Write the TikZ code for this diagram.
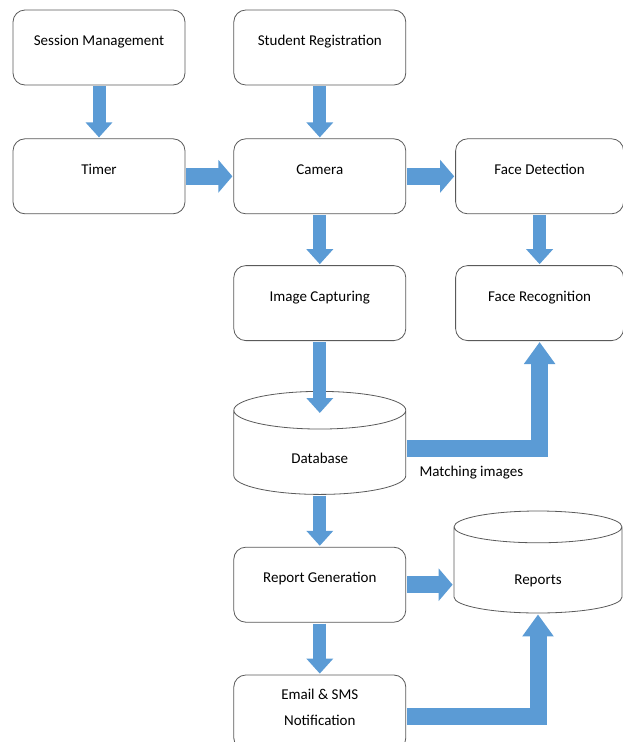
\documentclass[tikz,border=0pt]{standalone}
\usepackage{fontspec}
\setmainfont{Carlito}
\usetikzlibrary{arrows.meta,positioning,shapes.geometric}
\definecolor{fblue}{HTML}{5B9BD5}
\definecolor{fgray}{HTML}{5A5A5A}
\tikzset{
  box/.style={draw=fgray,fill=white,rounded corners=12pt,line width=0.8pt,align=center,minimum width=172pt,minimum height=75pt,inner sep=2pt},
  one/.style={box,text height=10pt,text depth=14pt},
  store/.style={cylinder,shape border rotate=90,aspect=0.62,draw=fgray,fill=white,line width=0.8pt,minimum width=172pt,minimum height=103pt,inner sep=2pt,text height=18pt,text depth=0pt},
  flow/.style={-{Triangle[width=26pt,length=15pt]},line width=13pt,draw=fblue,line join=miter,shorten <=1pt,shorten >=1pt},
  flowh/.style={flow,line width=17pt,-{Triangle[width=32pt,length=14pt]}},
  flowb/.style={flow,line width=17pt,-{Triangle[width=30pt,length=22pt]}},
  lbl/.style={text=black},
}
\begin{document}
\begin{tikzpicture}[x=1pt,y=-1pt,font=\fontsize{15}{18}\selectfont]
  \useasboundingbox (0,0) rectangle (623,742);
  \node[one] (sess) at (99,47.5) {Session Management};
  \node[one,right=48pt of sess] (stud) {Student Registration};
  \node[one,below=53pt of sess] (timer) {Timer};
  \node[one,below=53pt of stud] (cam) {Camera};
  \node[one,minimum width=168pt,right=49pt of cam] (fdet) {Face Detection};
  \node[one,below=51pt of cam] (imgc) {Image Capturing};
  \node[one,minimum width=168pt,below=51pt of fdet] (frec) {Face Recognition};
  \node[store,below=50pt of imgc] (db) {Database};
  \node[one,below=52pt of db] (rgen) {Report Generation};
  \node[store,minimum width=168pt,minimum height=102pt,text height=26pt,anchor=shape center] (rep) at (538,562) {Reports};
  \node[box,text depth=10pt,below=52pt of rgen] (mail) {Email \& SMS\\[8pt]Notification};
  \node[lbl,anchor=west] (match) at (416,473) {Matching images};
  \coordinate (dbout) at ([yshift=-6pt]db.shape center);
  \foreach \a/\b in {sess/timer,stud/cam,cam/imgc,fdet/frec,db/rgen,rgen/mail} \draw[flow] (\a) -- (\b);
  \draw[flow,shorten >=-22pt] (imgc) -- (db.north);
  \draw[flowh] (timer) -- (cam);
  \draw[flowh] (cam) -- (fdet);
  \draw[flowh] (rgen.east) -- (rgen.east -| rep.west);
  \draw[flowb] (dbout -| db.east) -| (frec.south);
  \draw[flowb] ([yshift=-4pt]mail.east) -| (rep.south);
\end{tikzpicture}
\end{document}
